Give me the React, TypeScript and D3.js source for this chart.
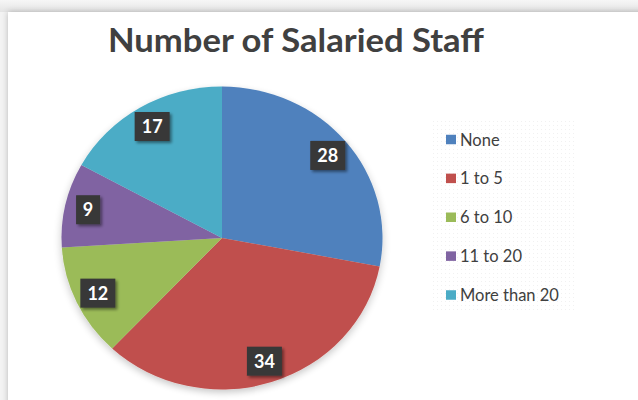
import React from "react";
import * as d3 from "d3";

const categories = ["None", "1 to 5", "6 to 10", "11 to 20", "More than 20"];
const values = [28, 34, 12, 9, 17];
const colors = ["#4F81BD", "#C0504D", "#9BBB59", "#8064A2", "#4BACC6"];
const title = "Number of Salaried Staff";

export default function App() {
  const W = 638, H = 400;
  const cx = 222, cy = 238, rx = 160.5, ry = 151.5;
  const sy = ry / rx;
  const pie = d3.pie<number>().sort(null).startAngle(0).endAngle(2 * Math.PI);
  const arcs = pie(values);
  const arc = d3.arc<d3.PieArcDatum<number>>().innerRadius(0).outerRadius(rx);
  const lr = rx * 0.855;
  const labelArc = d3.arc<d3.PieArcDatum<number>>().innerRadius(lr).outerRadius(lr);
  const legendY = d3.scalePoint<string>().domain(categories).range([139.5, 295]);
  const font = "Lato, 'Open Sans', sans-serif";
  return (
    <div style={{ position: "fixed", left: 0, top: 0, width: W, height: H }}>
      <svg width={W} height={H} style={{ display: "block" }}>
        <defs>
          <linearGradient id="bgTop" x1="0" y1="0" x2="0" y2="1">
            <stop offset="0" stopColor="#f6f6f6" />
            <stop offset="1" stopColor="#e4e4e4" />
          </linearGradient>
          <filter id="panelShadow" x="-5%" y="-5%" width="110%" height="110%">
            <feGaussianBlur in="SourceAlpha" stdDeviation="3" />
            <feOffset dx="0" dy="0" />
            <feComponentTransfer><feFuncA type="linear" slope="0.25" /></feComponentTransfer>
            <feMerge><feMergeNode /><feMergeNode in="SourceGraphic" /></feMerge>
          </filter>
          <filter id="pieShadow" x="-10%" y="-10%" width="120%" height="125%">
            <feGaussianBlur in="SourceAlpha" stdDeviation="4" />
            <feOffset dx="0" dy="3" />
            <feComponentTransfer><feFuncA type="linear" slope="0.22" /></feComponentTransfer>
            <feMerge><feMergeNode /><feMergeNode in="SourceGraphic" /></feMerge>
          </filter>
          <filter id="boxShadow" x="-30%" y="-30%" width="170%" height="170%">
            <feGaussianBlur in="SourceAlpha" stdDeviation="1.5" />
            <feOffset dx="2" dy="2" />
            <feComponentTransfer><feFuncA type="linear" slope="0.45" /></feComponentTransfer>
            <feMerge><feMergeNode /><feMergeNode in="SourceGraphic" /></feMerge>
          </filter>
          <pattern id="dots" width="4" height="4" patternUnits="userSpaceOnUse">
            <rect x="1" y="1" width="1" height="1" fill="#f1f1f1" />
          </pattern>
        </defs>
        <rect x={0} y={0} width={W} height={H} fill="#f3f3f3" />
        <rect x={0} y={0} width={W} height={12} fill="url(#bgTop)" />
        <rect x={8} y={12} width={W} height={H} fill="#ffffff" filter="url(#panelShadow)" />
        <text x={296} y={52} textAnchor="middle" fontFamily={font} fontWeight={700}
          fontSize={33} fill="#404040" textLength={376} lengthAdjust="spacingAndGlyphs">{title}</text>
        <rect x={432} y={121} width={145} height={192} fill="url(#dots)" />
        <g transform={`translate(${cx},${cy})`}>
          <g transform={`scale(1,${sy})`} filter="url(#pieShadow)">
            {arcs.map((a, i) => (
              <path key={categories[i]} d={arc(a) || ""} fill={colors[i]} />
            ))}
          </g>
          {arcs.map((a, i) => {
            const [x, y0] = labelArc.centroid(a);
            const y = y0 * sy;
            const txt = String(values[i]);
            const bw = txt.length > 1 ? 35 : 24;
            const bh = 29;
            return (
              <g key={"l" + i} transform={`translate(${x},${y})`}>
                <rect x={-bw / 2} y={-bh / 2} width={bw} height={bh} fill="#383838" filter="url(#boxShadow)" />
                <text x={0} y={6.5} textAnchor="middle" fontFamily={font} fontWeight={700}
                  fontSize={18} fill="#ffffff">{txt}</text>
              </g>
            );
          })}
        </g>
        {categories.map((c, i) => {
          const y = legendY(c) as number;
          return (
            <g key={"lg" + i}>
              <rect x={446} y={y - 4.75} width={10} height={9.5} fill={colors[i]} />
              <text x={460} y={y + 6} fontFamily={font} fontSize={16.5} fill="#404040">{c}</text>
            </g>
          );
        })}
      </svg>
    </div>
  );
}
